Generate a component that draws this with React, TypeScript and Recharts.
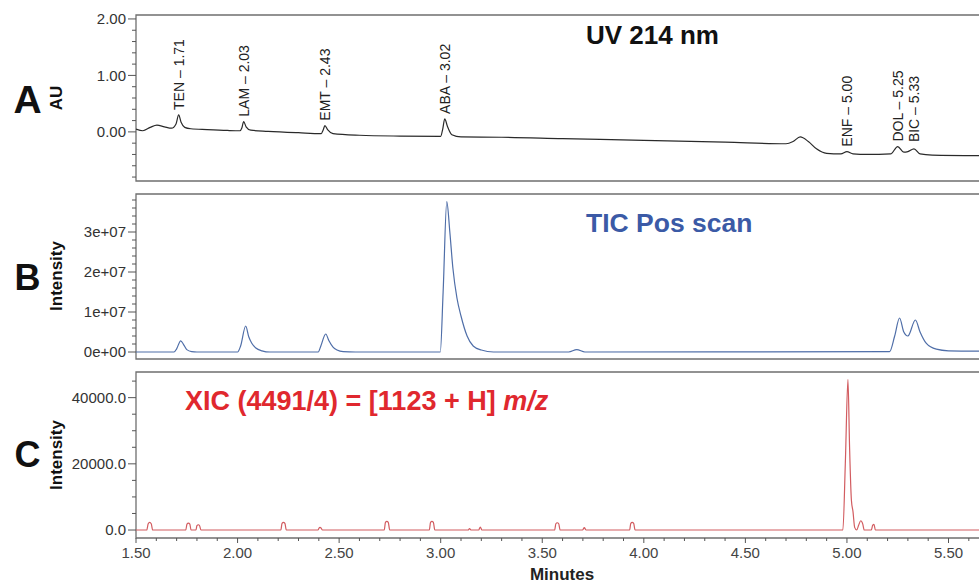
import React from "react"
import { ComposedChart, Line, XAxis, YAxis, ReferenceArea, ReferenceDot } from "recharts"

// time axis (minutes)
const xDomain = [1.5, 5.66]
const xTicks = [1.5, 1.6, 1.7, 1.8, 1.9, 2.0, 2.1, 2.2, 2.3, 2.4, 2.5, 2.6, 2.7, 2.8, 2.9, 3.0, 3.1, 3.2, 3.3, 3.4, 3.5, 3.6, 3.7, 3.8, 3.9, 4.0, 4.1, 4.2, 4.3, 4.4, 4.5, 4.6, 4.7, 4.8, 4.9, 5.0, 5.1, 5.2, 5.3, 5.4, 5.5, 5.6]
const xMajor = [1.5, 2.0, 2.5, 3.0, 3.5, 4.0, 4.5, 5.0, 5.5]
const xMajorLabels = ["1.50", "2.00", "2.50", "3.00", "3.50", "4.00", "4.50", "5.00", "5.50"]

// A: UV 214 nm (AU)
const aDomain = [-0.87, 2.07]
const aTicks = [-0.8, -0.6, -0.4, -0.2, 0, 0.2, 0.4, 0.6, 0.8, 1.0, 1.2, 1.4, 1.6, 1.8, 2.0]
const aMajor = [0, 1, 2]
const aMajorLabels = ["0.00", "1.00", "2.00"]
const traceA = [
  [1.5, 0.05], [1.534, 0.02], [1.57, 0.08], [1.603, 0.12], [1.64, 0.09], [1.675, 0.065],
  [1.697, 0.14], [1.71, 0.3], [1.722, 0.17], [1.74, 0.08], [1.77, 0.055], [1.85, 0.04],
  [1.95, 0.025], [2.012, 0.02], [2.021, 0.07], [2.03, 0.18], [2.042, 0.09], [2.065, 0.03],
  [2.15, 0.01], [2.3, -0.015], [2.412, -0.03], [2.421, 0.03], [2.43, 0.11], [2.443, 0.04],
  [2.47, -0.03], [2.6, -0.06], [2.8, -0.075], [3.0, -0.08], [3.01, 0.05], [3.02, 0.23],
  [3.033, 0.1], [3.055, -0.05], [3.1, -0.09], [3.3, -0.095], [3.6, -0.12], [4.0, -0.15],
  [4.4, -0.18], [4.7, -0.21], [4.735, -0.17], [4.77, -0.09], [4.81, -0.17], [4.85, -0.3],
  [4.9, -0.38], [4.97, -0.39], [5.0, -0.35], [5.03, -0.39], [5.1, -0.4], [5.215, -0.39],
  [5.25, -0.26], [5.28, -0.36], [5.3, -0.35], [5.33, -0.3], [5.36, -0.39], [5.42, -0.41],
  [5.66, -0.42],
]
const peaksA = [
  { t: 1.71, v: 0.3, name: "TEN – 1.71" },
  { t: 2.03, v: 0.18, name: "LAM – 2.03" },
  { t: 2.43, v: 0.11, name: "EMT – 2.43" },
  { t: 3.02, v: 0.23, name: "ABA – 3.02" },
  { t: 5.0, v: -0.35, name: "ENF – 5.00" },
  { t: 5.25, v: -0.26, name: "DOL – 5.25" },
  { t: 5.33, v: -0.27, name: "BIC – 5.33" },
]

// B: TIC positive scan
const bDomain = [-1.75e6, 3.95e7]
const bTicks = [0, 2e6, 4e6, 6e6, 8e6, 1e7, 1.2e7, 1.4e7, 1.6e7, 1.8e7, 2e7, 2.2e7, 2.4e7, 2.6e7, 2.8e7, 3e7, 3.2e7, 3.4e7, 3.6e7, 3.8e7]
const bMajor = [0, 1e7, 2e7, 3e7]
const bMajorLabels = ["0e+00", "1e+07", "2e+07", "3e+07"]
const traceB = [
  [1.5, 0], [1.687, 0], [1.7, 0.8e6], [1.72, 2.8e6], [1.735, 1.8e6], [1.75, 0.6e6], [1.774, 0.1e6], [1.8, 0],
  [2.0, 0], [2.015, 1.5e6], [2.04, 6.5e6], [2.055, 3.8e6], [2.07, 2.2e6], [2.09, 1.0e6], [2.12, 0.3e6], [2.16, 0],
  [2.397, 0], [2.41, 1.5e6], [2.434, 4.5e6], [2.45, 2.8e6], [2.47, 1.2e6], [2.49, 0.5e6], [2.52, 0.1e6], [2.58, 0],
  [2.998, 0], [3.012, 1.5e7], [3.03, 3.76e7], [3.045, 3.0e7], [3.06, 2.1e7], [3.08, 1.35e7], [3.1, 0.9e7],
  [3.13, 0.4e7], [3.16, 0.15e7], [3.2, 0.05e7], [3.26, 0],
  [3.63, 0], [3.67, 0.6e6], [3.71, 0],
  [5.21, 0.1e6], [5.235, 4.0e6], [5.259, 8.5e6], [5.28, 5.0e6], [5.3, 4.0e6], [5.337, 8.0e6], [5.36, 5.0e6],
  [5.39, 2.2e6], [5.44, 0.7e6], [5.5, 0.3e6], [5.66, 0.2e6],
]

// C: XIC 1123 [M+H]
const cDomain = [-2410, 47750]
const cTicks = [0, 5000, 10000, 15000, 20000, 25000, 30000, 35000, 40000, 45000]
const cMajor = [0, 20000, 40000]
const cMajorLabels = ["0.0", "20000.0", "40000.0"]
const traceC = [
  [1.5, 0], [1.553, 0], [1.56, 1900], [1.567, 2300], [1.575, 1900], [1.582, 0],
  [1.745, 0], [1.751, 1800], [1.758, 2100], [1.765, 1800], [1.771, 0],
  [1.795, 0], [1.8, 1300], [1.807, 1600], [1.813, 1300], [1.82, 0],
  [2.213, 0], [2.219, 2000], [2.226, 2300], [2.233, 2000], [2.24, 0],
  [2.396, 0], [2.401, 600], [2.406, 800], [2.411, 600], [2.418, 0],
  [2.722, 0], [2.728, 2300], [2.735, 2600], [2.742, 2300], [2.749, 0],
  [2.944, 0], [2.95, 2300], [2.957, 2600], [2.964, 2300], [2.971, 0],
  [3.135, 0], [3.142, 400], [3.15, 0],
  [3.187, 0], [3.195, 900], [3.203, 0],
  [3.561, 0], [3.567, 1900], [3.574, 2200], [3.581, 1900], [3.588, 0],
  [3.698, 0], [3.707, 700], [3.716, 0],
  [3.93, 0], [3.936, 2000], [3.943, 2300], [3.95, 2000], [3.957, 0],
  [4.98, 0], [4.992, 20000], [5.005, 45500], [5.013, 25000], [5.022, 9000], [5.03, 5500], [5.038, 800],
  [5.048, 0], [5.058, 1500], [5.068, 2800], [5.078, 1800], [5.085, 0],
  [5.12, 0], [5.127, 1500], [5.133, 1700], [5.14, 0],
  [5.66, 0],
]

const toRows = (pts: number[][]) => pts.map(([t, v]) => ({ t, v }))

const FONT = '"Liberation Sans", Arial, Helvetica, sans-serif'
const FRAME = "#6f6f6f"
const CHART_W = 991
const MARGIN_L = 76
const Y_W = 60

const near = (a: number, b: number) => Math.abs(a - b) < 1e-6

function YTick(props: any) {
  const { x, y, payload, majors, labels } = props
  const idx = majors.findIndex((m: number) => near(m, payload.value))
  const right = x + 10
  return (
    <g>
      <line x1={right - (idx >= 0 ? 8 : 4)} x2={right} y1={y} y2={y} stroke="#555" strokeWidth={1} />
      {idx >= 0 && (
        <text x={x} y={y} dy="0.35em" textAnchor="end" fontSize={15} fill="#333">
          {labels[idx]}
        </text>
      )}
    </g>
  )
}

function XTick(props: any) {
  const { x, y, payload } = props
  const idx = xMajor.findIndex((m) => near(m, payload.value))
  const top = y - 9
  return (
    <g>
      <line x1={x} x2={x} y1={top} y2={top + (idx >= 0 ? 5 : 3)} stroke="#555" strokeWidth={1} />
      {idx >= 0 && (
        <text x={x} y={y} dy="0.71em" textAnchor="middle" fontSize={15} fill="#444">
          {xMajorLabels[idx]}
        </text>
      )}
    </g>
  )
}

function Overlay({ x, y, size, color = "#111", rotate = false, center = true, children, bold = true }: any) {
  const tr = `translate(${center ? "-50%" : "0"}, -50%)${rotate ? " rotate(-90deg)" : ""}`
  return (
    <div
      style={{
        position: "absolute",
        left: x,
        top: y,
        fontSize: size,
        fontWeight: bold ? 700 : 400,
        color,
        lineHeight: 1,
        whiteSpace: "nowrap",
        transform: tr,
      }}
    >
      {children}
    </div>
  )
}

export default function App() {
  const rowsA = toRows(traceA)
  const rowsB = toRows(traceB)
  const rowsC = toRows(traceC)

  return (
    <div
      style={{
        position: "absolute",
        left: 0,
        top: 0,
        width: 979,
        height: 583,
        overflow: "hidden",
        background: "#fff",
        fontFamily: FONT,
      }}
    >
      {/* A */}
      <div style={{ position: "absolute", left: 0, top: 0 }}>
        <ComposedChart width={CHART_W} height={190} data={rowsA} margin={{ top: 15, right: 10, bottom: 9, left: MARGIN_L }}>
          <XAxis type="number" dataKey="t" domain={xDomain} allowDataOverflow hide />
          <YAxis
            type="number"
            domain={aDomain}
            allowDataOverflow
            ticks={aTicks}
            interval={0}
            width={Y_W}
            axisLine={false}
            tickLine={false}
            tickSize={8}
            tickMargin={2}
            tick={(p: any) => <YTick {...p} majors={aMajor} labels={aMajorLabels} />}
          />
          <ReferenceArea x1={xDomain[0]} x2={xDomain[1]} y1={aDomain[0]} y2={aDomain[1]} fill="none" fillOpacity={0} stroke={FRAME} strokeWidth={1.3} />
          <Line type="monotone" dataKey="v" stroke="#2a2a2a" strokeWidth={1.2} dot={false} activeDot={false} isAnimationActive={false} />
          {peaksA.map((p) => (
            <ReferenceDot
              key={p.name}
              x={p.t}
              y={p.v}
              r={1}
              ifOverflow="visible"
              shape={(s: any) => (
                <text
                  x={s.cx + 5}
                  y={s.cy - 5}
                  transform={`rotate(-90 ${s.cx + 5} ${s.cy - 5})`}
                  fontSize={14}
                  fill="#222"
                >
                  {p.name}
                </text>
              )}
            />
          ))}
        </ComposedChart>
      </div>

      {/* B */}
      <div style={{ position: "absolute", left: 0, top: 190 }}>
        <ComposedChart width={CHART_W} height={180} data={rowsB} margin={{ top: 4, right: 10, bottom: 11, left: MARGIN_L }}>
          <XAxis type="number" dataKey="t" domain={xDomain} allowDataOverflow hide />
          <YAxis
            type="number"
            domain={bDomain}
            allowDataOverflow
            ticks={bTicks}
            interval={0}
            width={Y_W}
            axisLine={false}
            tickLine={false}
            tickSize={8}
            tickMargin={2}
            tick={(p: any) => <YTick {...p} majors={bMajor} labels={bMajorLabels} />}
          />
          <ReferenceArea x1={xDomain[0]} x2={xDomain[1]} y1={bDomain[0]} y2={bDomain[1]} fill="none" fillOpacity={0} stroke={FRAME} strokeWidth={1.3} />
          <Line type="monotone" dataKey="v" stroke="#4f6ea8" strokeWidth={1.2} dot={false} activeDot={false} isAnimationActive={false} />
        </ComposedChart>
      </div>

      {/* C */}
      <div style={{ position: "absolute", left: 0, top: 370 }}>
        <ComposedChart width={CHART_W} height={213} data={rowsC} margin={{ top: 2, right: 10, bottom: 0, left: MARGIN_L }}>
          <XAxis
            type="number"
            dataKey="t"
            domain={xDomain}
            allowDataOverflow
            ticks={xTicks}
            interval={0}
            height={45}
            axisLine={false}
            tickLine={false}
            tickSize={5}
            tickMargin={4}
            tick={(p: any) => <XTick {...p} />}
          />
          <YAxis
            type="number"
            domain={cDomain}
            allowDataOverflow
            ticks={cTicks}
            interval={0}
            width={Y_W}
            axisLine={false}
            tickLine={false}
            tickSize={8}
            tickMargin={2}
            tick={(p: any) => <YTick {...p} majors={cMajor} labels={cMajorLabels} />}
          />
          <ReferenceArea x1={xDomain[0]} x2={xDomain[1]} y1={cDomain[0]} y2={cDomain[1]} fill="none" fillOpacity={0} stroke={FRAME} strokeWidth={1.3} />
          <Line type="monotone" dataKey="v" stroke="#d25c60" strokeWidth={1.2} dot={false} activeDot={false} isAnimationActive={false} />
        </ComposedChart>
      </div>

      {/* panel letters and axis titles */}
      <Overlay x={27.5} y={99} size={39}>A</Overlay>
      <Overlay x={27.5} y={278} size={36}>B</Overlay>
      <Overlay x={27.5} y={455} size={36}>C</Overlay>
      <Overlay x={56} y={98} size={17} rotate>AU</Overlay>
      <Overlay x={56} y={276} size={17} rotate>Intensity</Overlay>
      <Overlay x={56} y={455} size={17} rotate>Intensity</Overlay>
      <Overlay x={562} y={574} size={17} color="#222">Minutes</Overlay>

      {/* trace titles */}
      <Overlay x={586} y={35} size={26} center={false} color="#111">UV 214 nm</Overlay>
      <Overlay x={586} y={223} size={26.5} center={false} color="#3b5aa6">TIC Pos scan</Overlay>
      <Overlay x={185} y={401} size={27} center={false} color="#e0282e">
        XIC (4491/4) = [1123 + H] <i>m/z</i>
      </Overlay>
    </div>
  )
}
